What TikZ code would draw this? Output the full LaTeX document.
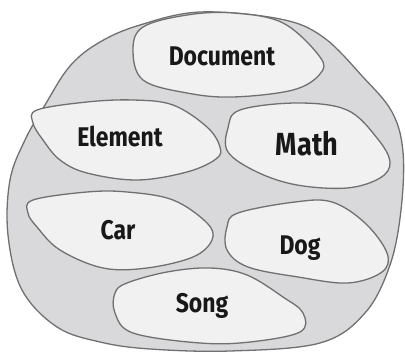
\documentclass[tikz,border=0pt]{standalone}
\usepackage{fontspec}
\setmainfont{Fira Sans}
\newfontfamily\handfont{Fira Sans}[FakeStretch=0.85]
\usepackage{tikz}
\usetikzlibrary{calc}
\usepackage{xcolor}

\definecolor{outergray}{RGB}{217,217,219}
\definecolor{innergray}{RGB}{241,241,241}
\definecolor{edgegray}{RGB}{112,112,112}
\definecolor{inkblack}{RGB}{24,24,24}

\begin{document}
\begin{tikzpicture}[x=1pt, y=-1pt,
  outer/.style={draw=edgegray, line width=1.3pt, fill=outergray},
  blob/.style={draw=edgegray, line width=1.3pt, fill=innergray},
  word/.style={text=inkblack, font=\handfont\fontsize{27}{27}\selectfont\bfseries,
    inner sep=0pt, text height=19pt, text depth=0pt},
  bigword/.style={word, font=\handfont\fontsize{32}{32}\selectfont\bfseries,
    text height=22pt}]
  \useasboundingbox (0,0) rectangle (405,352);

  % the whole set
  \draw[outer] plot[smooth cycle, tension=0.6] coordinates {
    (140,25) (200,12) (280,19) (323,37) (363,77) (392,112) (403,152)
    (401,210) (390,265) (365,313) (320,343) (230,351) (150,349)
    (100,342) (57,327) (22,290) (8,235) (10,180) (25,140) (45,105)
    (70,66) (100,42)};

  % the parts
  \draw[blob] plot[smooth cycle, tension=0.6] coordinates {
    (143,27) (187,15) (233,13) (283,23) (320,57) (320,74) (293,90)
    (233,97) (187,93) (143,80) (133,50)};
  \draw[blob] plot[smooth cycle, tension=0.6] coordinates {
    (37,110) (87,102) (133,100) (173,105) (207,127) (220,147) (216,159)
    (187,172) (137,180) (87,173) (60,160) (43,140) (33,123)};
  \draw[blob] plot[smooth cycle, tension=0.6] coordinates {
    (240,110) (297,103) (347,110) (377,138) (390,162) (380,178)
    (347,188) (297,185) (257,172) (228,152) (228,128)};
  \draw[blob] plot[smooth cycle, tension=0.6] coordinates {
    (33,200) (87,192) (127,192) (173,200) (207,223) (212,240) (193,257)
    (147,268) (103,268) (60,250) (37,227) (28,213)};
  \draw[blob] plot[smooth cycle, tension=0.6] coordinates {
    (238,213) (295,202) (332,202) (365,223) (387,253) (382,272)
    (348,283) (298,277) (248,267) (227,250) (227,227)};
  \draw[blob] plot[smooth cycle, tension=0.6] coordinates {
    (127,283) (167,272) (210,268) (247,275) (283,297) (303,313)
    (300,332) (250,342) (200,343) (133,333) (115,313) (115,293)};

  \node (document) [word] at (222,56) {Document};
  \node (element) [word] at (120,137) {Element};
  \node (math) [bigword] at (307,145) {Math};
  \node (car) [word] at (118,230) {Car};
  \node (dog) [word] at (300,245) {Dog};
  \node (song) [word] at (202,303) {Song};
\end{tikzpicture}
\end{document}
